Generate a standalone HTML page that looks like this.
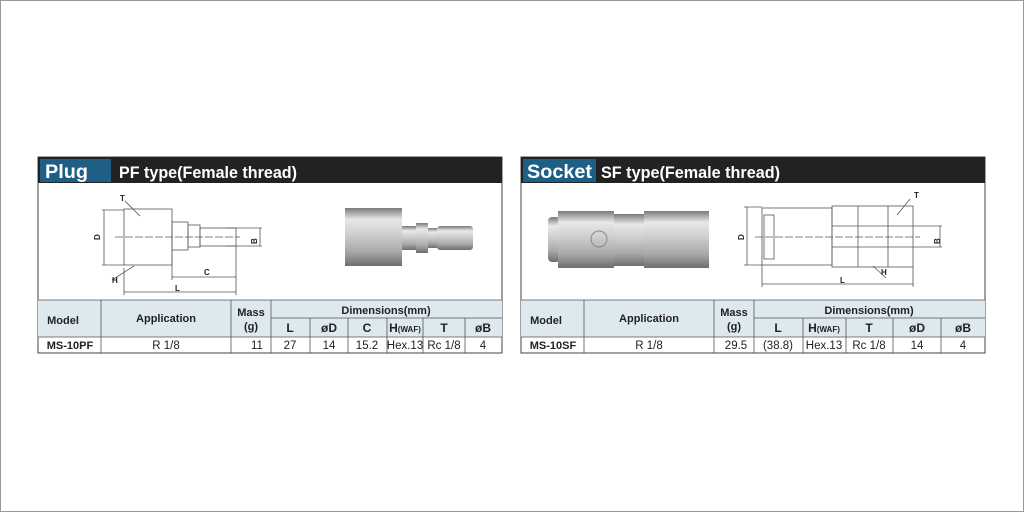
<!DOCTYPE html>
<html><head><meta charset="utf-8"><style>
body{margin:0;background:#fff;}
svg{display:block;font-family:"Liberation Sans",Arial,sans-serif;}
</style></head><body>
<svg width="1024" height="512" viewBox="0 0 1024 512">
<defs>
<linearGradient id="met" x1="0" y1="0" x2="0" y2="1">
<stop offset="0" stop-color="#7a7a7a"/><stop offset="0.2" stop-color="#e8e8e8"/><stop offset="0.45" stop-color="#cfcfcf"/><stop offset="0.75" stop-color="#a9a9a9"/><stop offset="1" stop-color="#6e6e6e"/>
</linearGradient>
</defs>
<rect x="0.5" y="0.5" width="1023" height="511" fill="#fff" stroke="#999"/>

<!-- LEFT PANEL -->
<g>
<rect x="38" y="157" width="464" height="196" fill="#fff" stroke="#444"/>
<rect x="38" y="157" width="464" height="26" fill="#222"/>
<rect x="40" y="159" width="71" height="23" fill="#1f5f86"/>
<text x="45" y="178" font-size="19" font-weight="bold" fill="#fff" textLength="43" lengthAdjust="spacingAndGlyphs">Plug</text>
<text x="119" y="178" font-size="17" font-weight="bold" fill="#fff" textLength="178" lengthAdjust="spacingAndGlyphs">PF type(Female thread)</text>
<!-- drawing -->
<g fill="none" stroke="#555" stroke-width="0.8">
<rect x="124" y="209" width="48" height="56"/>
<rect x="172" y="222" width="16" height="28"/>
<rect x="188" y="225" width="12" height="22"/>
<rect x="200" y="228" width="36" height="18"/>
<line x1="115" y1="237" x2="240" y2="237" stroke-dasharray="8 2"/>
<line x1="102" y1="210" x2="124" y2="210"/><line x1="102" y1="265" x2="124" y2="265"/>
<line x1="104" y1="210" x2="104" y2="265"/>
<line x1="172" y1="277" x2="236" y2="277"/><line x1="124" y1="292" x2="236" y2="292"/>
<line x1="236" y1="246" x2="236" y2="295"/><line x1="124" y1="268" x2="124" y2="295"/>
<line x1="172" y1="250" x2="172" y2="280"/>
<line x1="226" y1="228" x2="262" y2="228"/><line x1="226" y1="246" x2="262" y2="246"/>
<line x1="260" y1="228" x2="260" y2="246"/>
<line x1="125" y1="201" x2="140" y2="216"/><line x1="112" y1="280" x2="134" y2="266"/>
</g>
<g font-size="8" font-weight="bold" fill="#222">
<text x="120" y="201">T</text><text x="94" y="240" transform="rotate(-90 97 237)">D</text>
<text x="112" y="283">H</text><text x="204" y="275">C</text><text x="175" y="291">L</text>
<text x="250" y="243" transform="rotate(-90 254 240)">B</text>
</g>
<!-- photo -->
<rect x="345" y="208" width="57" height="58" fill="url(#met)"/>
<rect x="402" y="226" width="14" height="24" fill="url(#met)"/>
<rect x="416" y="223" width="12" height="30" fill="url(#met)"/>
<rect x="428" y="228" width="9" height="20" fill="url(#met)"/>
<rect x="437" y="226" width="36" height="24" rx="3" fill="url(#met)"/>
<!-- table -->
<rect x="38" y="300" width="464" height="37" fill="#dde8ef"/>
<g stroke="#555" stroke-width="0.8">
<line x1="38" y1="300" x2="502" y2="300"/><line x1="271" y1="318" x2="502" y2="318"/>
<line x1="38" y1="337" x2="502" y2="337"/>
<line x1="101" y1="300" x2="101" y2="353"/><line x1="231" y1="300" x2="231" y2="353"/><line x1="271" y1="300" x2="271" y2="353"/>
<line x1="310" y1="318" x2="310" y2="353"/><line x1="348" y1="318" x2="348" y2="353"/><line x1="387" y1="318" x2="387" y2="353"/><line x1="423" y1="318" x2="423" y2="353"/><line x1="465" y1="318" x2="465" y2="353"/>
</g>
<g font-size="11" font-weight="bold" fill="#222" text-anchor="middle">
<text x="63" y="324">Model</text><text x="166" y="322">Application</text>
<text x="251" y="316">Mass</text><text x="251" y="330">(g)</text>
<text x="386" y="314">Dimensions(mm)</text>
<text x="290" y="332" font-size="12">L</text><text x="329" y="332" font-size="12">øD</text><text x="367" y="332" font-size="12">C</text><text x="405" y="332" font-size="12">H<tspan font-size="8">(WAF)</tspan></text><text x="444" y="332" font-size="12">T</text><text x="483" y="332" font-size="12">øB</text>
<text x="70" y="349">MS-10PF</text>
</g>
<g font-size="11.5" fill="#222" text-anchor="middle">
<text x="166" y="349">R 1/8</text><text x="257" y="349">11</text><text x="290" y="349">27</text><text x="329" y="349">14</text><text x="367" y="349">15.2</text><text x="405" y="349">Hex.13</text><text x="444" y="349">Rc 1/8</text><text x="483" y="349">4</text>
</g>
</g>

<!-- RIGHT PANEL -->
<g>
<rect x="521" y="157" width="464" height="196" fill="#fff" stroke="#444"/>
<rect x="521" y="157" width="464" height="26" fill="#222"/>
<rect x="523" y="159" width="73" height="23" fill="#1f5f86"/>
<text x="527" y="178" font-size="19" font-weight="bold" fill="#fff" textLength="65" lengthAdjust="spacingAndGlyphs">Socket</text>
<text x="601" y="178" font-size="17" font-weight="bold" fill="#fff" textLength="179" lengthAdjust="spacingAndGlyphs">SF type(Female thread)</text>
<!-- photo -->
<rect x="548" y="217" width="12" height="45" rx="4" fill="url(#met)"/>
<rect x="558" y="211" width="56" height="57" fill="url(#met)"/>
<rect x="614" y="214" width="30" height="52" fill="url(#met)"/>
<rect x="644" y="211" width="65" height="57" fill="url(#met)"/>
<circle cx="599" cy="239" r="8" fill="none" stroke="#888"/>
<!-- drawing -->
<g fill="none" stroke="#555" stroke-width="0.8">
<rect x="762" y="208" width="70" height="57"/>
<rect x="764" y="215" width="10" height="44"/>
<rect x="832" y="206" width="81" height="61"/>
<line x1="858" y1="206" x2="858" y2="267"/><line x1="888" y1="206" x2="888" y2="267"/>
<line x1="832" y1="226" x2="913" y2="226"/><line x1="832" y1="247" x2="913" y2="247"/>
<line x1="755" y1="237" x2="920" y2="237" stroke-dasharray="8 2"/>
<line x1="744" y1="207" x2="762" y2="207"/><line x1="744" y1="265" x2="762" y2="265"/>
<line x1="747" y1="207" x2="747" y2="265"/>
<line x1="762" y1="284" x2="913" y2="284"/>
<line x1="762" y1="265" x2="762" y2="287"/><line x1="913" y1="267" x2="913" y2="287"/>
<line x1="913" y1="226" x2="942" y2="226"/><line x1="913" y1="247" x2="942" y2="247"/>
<line x1="940" y1="226" x2="940" y2="247"/>
<line x1="910" y1="199" x2="897" y2="215"/><line x1="873" y1="266" x2="886" y2="278"/>
</g>
<g font-size="8" font-weight="bold" fill="#222">
<text x="914" y="198">T</text><text x="738" y="240" transform="rotate(-90 741 237)">D</text>
<text x="881" y="275">H</text><text x="840" y="283">L</text>
<text x="933" y="243" transform="rotate(-90 937 240)">B</text>
</g>
<!-- table -->
<rect x="521" y="300" width="464" height="37" fill="#dde8ef"/>
<g stroke="#555" stroke-width="0.8">
<line x1="521" y1="300" x2="985" y2="300"/><line x1="754" y1="318" x2="985" y2="318"/>
<line x1="521" y1="337" x2="985" y2="337"/>
<line x1="584" y1="300" x2="584" y2="353"/><line x1="714" y1="300" x2="714" y2="353"/><line x1="754" y1="300" x2="754" y2="353"/>
<line x1="803" y1="318" x2="803" y2="353"/><line x1="846" y1="318" x2="846" y2="353"/><line x1="893" y1="318" x2="893" y2="353"/><line x1="941" y1="318" x2="941" y2="353"/>
</g>
<g font-size="11" font-weight="bold" fill="#222" text-anchor="middle">
<text x="546" y="324">Model</text><text x="649" y="322">Application</text>
<text x="734" y="316">Mass</text><text x="734" y="330">(g)</text>
<text x="869" y="314">Dimensions(mm)</text>
<text x="778" y="332" font-size="12">L</text><text x="824" y="332" font-size="12">H<tspan font-size="8">(WAF)</tspan></text><text x="869" y="332" font-size="12">T</text><text x="917" y="332" font-size="12">øD</text><text x="963" y="332" font-size="12">øB</text>
<text x="553" y="349">MS-10SF</text>
</g>
<g font-size="11.5" fill="#222" text-anchor="middle">
<text x="649" y="349">R 1/8</text><text x="736" y="349">29.5</text><text x="778" y="349">(38.8)</text><text x="824" y="349">Hex.13</text><text x="869" y="349">Rc 1/8</text><text x="917" y="349">14</text><text x="963" y="349">4</text>
</g>
</g>
</svg>
</body></html>
